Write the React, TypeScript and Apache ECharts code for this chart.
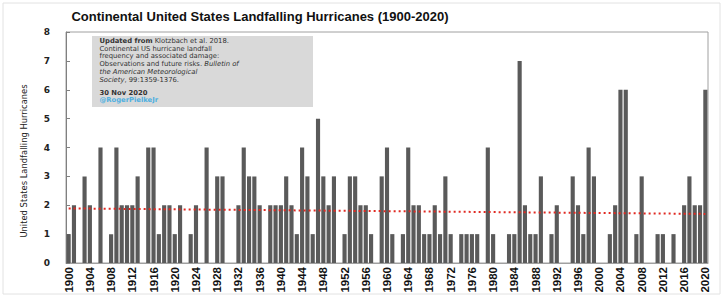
import React, { useEffect, useRef } from "react";
import * as echarts from "echarts";

const startYear = 1900;
const hurricanes = [
  1, 2, 0, 3, 2, 0, 4, 0, 1, 4,
  2, 2, 2, 3, 0, 4, 4, 1, 2, 2,
  1, 2, 0, 1, 2, 0, 4, 0, 3, 3,
  0, 0, 2, 4, 3, 3, 2, 0, 2, 2,
  2, 3, 2, 1, 4, 3, 1, 5, 3, 2,
  3, 0, 1, 3, 3, 2, 2, 1, 0, 3,
  4, 1, 0, 1, 4, 2, 2, 1, 1, 2,
  1, 3, 1, 0, 1, 1, 1, 1, 0, 4,
  1, 0, 0, 1, 1, 7, 2, 1, 1, 3,
  0, 1, 2, 0, 0, 3, 2, 1, 4, 3,
  0, 0, 1, 2, 6, 6, 0, 1, 3, 0,
  0, 1, 1, 0, 1, 0, 2, 3, 2, 2,
  6,
];
const years = hurricanes.map((_, i) => String(startYear + i));
const trendStart = 1.89;
const trendEnd = 1.7;
const yTicks = [0, 1, 2, 3, 4, 5, 6, 7, 8];

const titleText = "Continental United States Landfalling Hurricanes (1900-2020)";
const yName = "United States Landfalling Hurricanes";
// note lines: segments of [text, kind] where kind: n normal, b bold, i italic, c link
const noteLines: [string, string][][] = [
  [["Updated from", "b"], [" Klotzbach et al. 2018.", "n"]],
  [["Continental US hurricane landfall", "n"]],
  [["frequency and associated damage:", "n"]],
  [["Observations and future risks. ", "n"], ["Bulletin of", "i"]],
  [["the American Meteorological", "i"]],
  [["Society", "i"], [", 99:1359-1376.", "n"]],
  [["30 Nov 2020", "b"]],
  [["@RogerPielkeJr", "c"]],
];

export default function App() {
  const ref = useRef<HTMLDivElement>(null);
  useEffect(() => {
    if (!ref.current) return;
    const chart = echarts.init(ref.current, null, { renderer: "svg" });
    const noteFont = "DejaVu Sans";
    const fs = 6.8;
    const lh = 7.9;
    const ctx = document.createElement("canvas").getContext("2d")!;
    const noteEls: any[] = [];
    noteLines.forEach((segs, li) => {
      let cx = 0;
      const yPos = 40.6 + li * lh + (li >= 6 ? 4.5 : 0);
      segs.forEach(([t, k]) => {
        const weight = k === "b" || k === "c" ? "bold" : "normal";
        const fstyle = k === "i" ? "italic" : "normal";
        ctx.font = `${fstyle} ${weight} ${fs}px "${noteFont}"`;
        const w = ctx.measureText(t).width;
        noteEls.push({
          type: "text",
          z: 11,
          x: 99.5 + cx,
          y: yPos,
          style: {
            text: t,
            fontSize: fs,
            lineHeight: lh,
            fontWeight: weight,
            fontStyle: fstyle,
            fontFamily: noteFont,
            fill: k === "c" ? "#4fb0e0" : "#333",
            textVerticalAlign: "middle",
          },
        });
        cx += w;
      });
    });
    chart.setOption({
      animation: false,
      backgroundColor: "#ffffff",
      grid: {
        left: 66,
        right: 17,
        top: 32,
        bottom: 34,
        show: true,
        borderColor: "#a0a0a0",
        borderWidth: 1,
        backgroundColor: "transparent",
      },
      xAxis: {
        type: "category",
        data: years,
        boundaryGap: true,
        axisLine: { show: true, lineStyle: { color: "#a0a0a0" } },
        axisTick: { show: false },
        axisLabel: {
          interval: 3,
          rotate: 90,
          color: "#111",
          fontWeight: "bold",
          fontSize: 11.5,
          fontFamily: "'Liberation Sans Narrow', 'Liberation Sans', sans-serif",
          margin: 4,
        },
      },
      yAxis: {
        type: "value",
        min: 0,
        max: 8,
        interval: 1,
        splitLine: { show: false },
        axisLine: { show: true, lineStyle: { color: "#808080" } },
        axisTick: { show: true, inside: true, length: 4, lineStyle: { color: "#808080" } },
        axisLabel: {
          color: "#222",
          fontWeight: "bold",
          fontSize: 9,
          fontFamily: "DejaVu Sans",
          margin: 16,
          formatter: (v: number) => (yTicks.includes(v) ? String(v) : ""),
        },
      },
      series: [
        {
          type: "bar",
          data: hurricanes,
          barCategoryGap: "22%",
          itemStyle: { color: "#5a5a5a" },
          markLine: {
            silent: true,
            symbol: "none",
            label: { show: false },
            lineStyle: { color: "#e02a22", width: 2, type: [2, 3], opacity: 1 },
            data: [
              [
                { coord: [years[0], trendStart] },
                { coord: [years[years.length - 1], trendEnd] },
              ],
            ],
          },
        },
      ],
      graphic: [
        {
          type: "rect",
          shape: { x: 3, y: 3, width: 717, height: 291 },
          style: { fill: "none", stroke: "#e2e2e2", lineWidth: 1 },
          silent: true,
        },
        {
          type: "text",
          x: 260,
          y: 16,
          style: {
            text: titleText,
            fontSize: 13,
            fontWeight: "bold",
            fontFamily: "Liberation Sans",
            fill: "#111",
            textAlign: "center",
            textVerticalAlign: "middle",
          },
        },
        {
          type: "text",
          x: 23,
          y: 161,
          rotation: Math.PI / 2,
          style: {
            text: yName,
            fontSize: 9.3,
            fontFamily: "'Liberation Sans Narrow', 'DejaVu Sans Condensed', sans-serif",
            fill: "#222",
            textAlign: "center",
            textVerticalAlign: "middle",
          },
        },
        {
          type: "rect",
          z: 10,
          shape: { x: 92, y: 36, width: 221, height: 71 },
          style: { fill: "#d9d9d9", stroke: "none" },
        },
        ...noteEls,
      ],
    });
    return () => chart.dispose();
  }, []);
  return (
    <div
      ref={ref}
      style={{ position: "fixed", left: 0, top: 0, width: 725, height: 297 }}
    />
  );
}
